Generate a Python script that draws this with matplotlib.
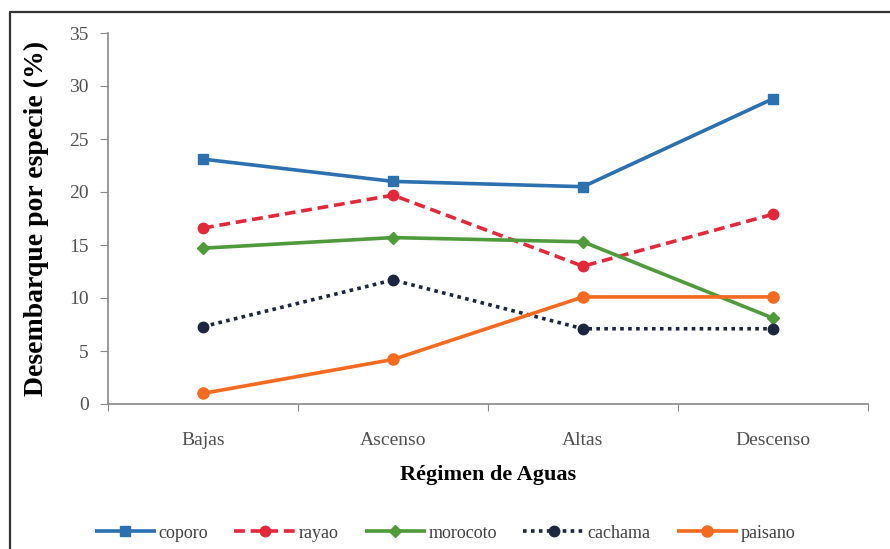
import matplotlib
matplotlib.use("Agg")
import matplotlib.pyplot as plt
from matplotlib.lines import Line2D

categories = ["Bajas", "Ascenso", "Altas", "Descenso"]
coporo = [23.1, 21.0, 20.5, 28.8]
rayao = [16.6, 19.7, 13.0, 17.9]
morocoto = [14.7, 15.7, 15.3, 8.1]
cachama = [7.3, 11.7, 7.1, 7.1]
paisano = [1.0, 4.2, 10.1, 10.1]
yticks = [0, 5, 10, 15, 20, 25, 30, 35]

plt.rcParams['font.family'] = ['Liberation Serif', 'DejaVu Serif']

fig = plt.figure(figsize=(8.9, 5.49), dpi=100)
ax = fig.add_axes([108/890, 1-404/549, 760/890, 371/549])

xs = [0.5, 1.5, 2.5, 3.5]
series = [
    ("coporo", coporo, "#2c70b0", "-", "s", 7),
    ("rayao", rayao, "#e3283a", (0, (3, 1.6)), "o", 7.5),
    ("morocoto", morocoto, "#4f9a3a", "-", "D", 6.5),
    ("cachama", cachama, "#1c2640", (0, (1, 1.2)), "o", 7.5),
    ("paisano", paisano, "#f46a1f", "-", "o", 8),
]
for name, vals, col, ls, mk, ms in series:
    ax.plot(xs, vals, color=col, linestyle=ls, linewidth=2.6, marker=mk,
            markersize=ms, label=name, solid_capstyle='butt',
            dash_capstyle='butt')

ax.set_xlim(0, 4)
ax.set_ylim(0, 35)
ax.set_yticks(yticks)
ax.set_xticks([0, 1, 2, 3, 4])
ax.set_xticklabels([])
ax.set_xticks(xs, minor=True)
ax.set_xticklabels(categories, minor=True)
ax.tick_params(axis='x', which='minor', length=0, pad=20, labelsize=14, labelcolor='#505050')
ax.tick_params(axis='x', which='major', length=5, color='#888888', direction='out')
ax.tick_params(axis='y', length=6, color='#888888', direction='out', labelsize=14,
               labelcolor='#505050', pad=8)
for s in ['top', 'right']:
    ax.spines[s].set_visible(False)
for s in ['left', 'bottom']:
    ax.spines[s].set_color('#888888')
    ax.spines[s].set_linewidth(1.2)

ax.set_ylabel("Desembarque por especie (%)", fontsize=20, fontweight='bold', labelpad=14)
ax.set_xlabel("Régimen de Aguas", fontsize=16, fontweight='bold', labelpad=12)

fig.legend(loc='center', bbox_to_anchor=(0.5, 1-533/549), ncol=5, frameon=False,
           fontsize=13, handlelength=3.4, handletextpad=0.15, columnspacing=1.45,
           labelcolor='#404040')

fig.add_artist(Line2D([10/890, 10/890, 1.0], [0.0, 1-12/549, 1-12/549],
                      transform=fig.transFigure, color='#333333', linewidth=1.6))

fig.savefig("out.png", dpi=100)
